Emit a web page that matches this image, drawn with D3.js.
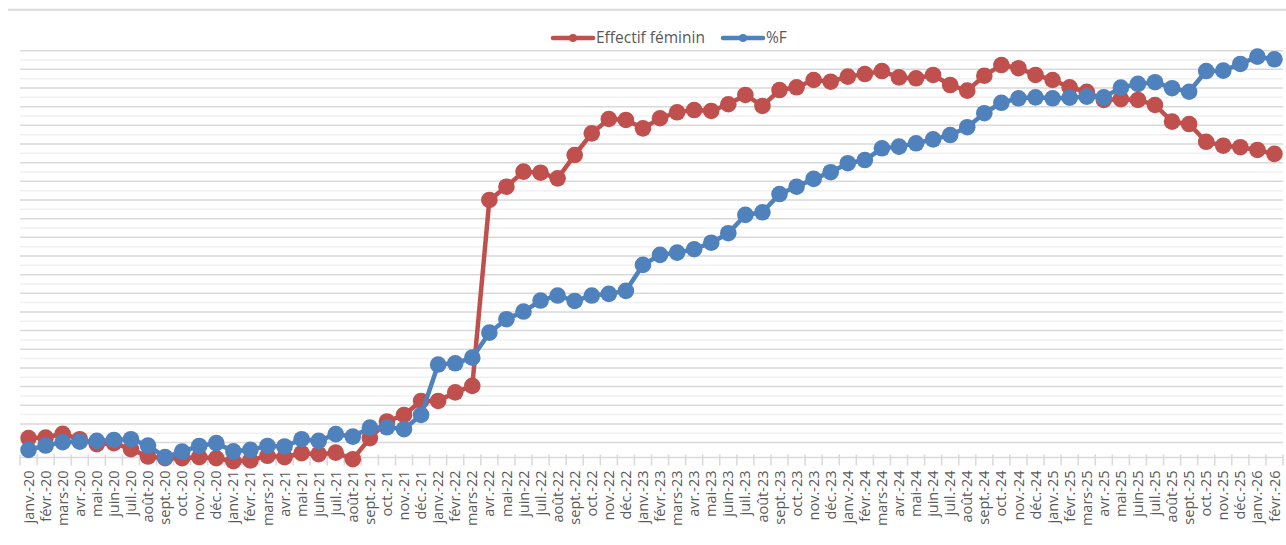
<!DOCTYPE html>
<html lang="fr">
<head>
  <meta charset="UTF-8">
  <title>Effectif féminin et %F</title>
  <script src="https://d3js.org/d3.v7.min.js"></script>
  <style>
    body { margin: 0; background: #fff; font-family: "Open Sans", "Liberation Sans", sans-serif; }
    .grid-major { stroke: #d9d9d9; stroke-width: 1.5px; }
    .grid-minor { stroke: #f0f0f0; stroke-width: 1.5px; }
    .axis-x line { stroke: #d9d9d9; stroke-width: 1.5px; }
    .axis-x text { fill: #595959; font-size: 14.5px; }
    .series { fill: none; stroke-width: 4.5px; stroke-linejoin: round; }
    .legend text { fill: #595959; font-size: 15.5px; }
  </style>
</head>
<body>
<svg width="1286" height="545"></svg>
<script>
const months = ["janv.", "févr.", "mars", "avr.", "mai", "juin", "juil.", "août", "sept.", "oct.", "nov.", "déc."];
const categories = [];
for (let yr = 20; yr <= 26; yr++) {
  months.forEach((m, i) => {
    if (yr === 26 && i > 1) return;
    categories.push(`${m}-${yr}`);
  });
}

// values, in gridline units (no value axis is shown)
const effectifFeminin = [
  0.24, 0.27, 0.47, 0.18, -0.09, -0.03, -0.35, -0.75, -0.84, -0.84, -0.78, -0.84,
  -1.00, -0.96, -0.71, -0.78, -0.57, -0.62, -0.54, -0.89, 0.24, 1.13, 1.48, 2.23,
  2.23, 2.69, 3.04, 13.0, 13.71, 14.52, 14.46, 14.16, 15.41, 16.57, 17.34, 17.29,
  16.84, 17.38, 17.70, 17.82, 17.77, 18.13, 18.63, 18.04, 18.89, 19.04, 19.43, 19.34,
  19.61, 19.75, 19.91, 19.57, 19.52, 19.70, 19.16, 18.86, 19.66, 20.23, 20.06, 19.70,
  19.43, 19.04, 18.80, 18.36, 18.40, 18.36, 18.09, 17.20, 17.07, 16.12, 15.91, 15.83,
  15.68, 15.47
];
const pctF = [
  -0.39, -0.16, 0.02, 0.05, 0.09, 0.14, 0.18, -0.16, -0.78, -0.48, -0.18, -0.03,
  -0.47, -0.39, -0.18, -0.21, 0.18, 0.09, 0.45, 0.32, 0.80, 0.82, 0.72, 1.48,
  4.18, 4.25, 4.55, 5.89, 6.61, 7.02, 7.61, 7.88, 7.59, 7.88, 7.97, 8.13,
  9.52, 10.06, 10.18, 10.36, 10.71, 11.22, 12.20, 12.34, 13.32, 13.71, 14.13, 14.49,
  14.97, 15.14, 15.77, 15.86, 16.04, 16.25, 16.48, 16.90, 17.65, 18.21, 18.45, 18.50,
  18.45, 18.48, 18.54, 18.50, 19.02, 19.22, 19.31, 18.99, 18.80, 19.91, 19.93, 20.29,
  20.68, 20.54
];
const seriesNames = ["Effectif féminin", "%F"];
const seriesColors = ["#c0504d", "#4f81bd"];
const majorTicks = d3.range(0, 22);
const minorTicks = d3.range(0.5, 21, 1);

const svg = d3.select("svg");
const plotLeft = 20, plotRight = 1283, plotTop = 50.7, axisY = 457.5;

const x = d3.scaleBand().domain(categories).range([plotLeft, plotRight]);
const y = d3.scaleLinear().domain([-0.8, 21]).range([axisY, plotTop]);
const cx = (d, i) => x(categories[i]) + x.bandwidth() / 2;

// frame line at the top of the chart area
svg.append("line")
  .attr("x1", 8).attr("x2", 1286).attr("y1", 9.7).attr("y2", 9.7)
  .attr("stroke", "#d9d9d9").attr("stroke-width", 2);

svg.append("g").selectAll("line").data(minorTicks).join("line")
  .attr("class", "grid-minor")
  .attr("x1", plotLeft).attr("x2", plotRight)
  .attr("y1", d => y(d)).attr("y2", d => y(d));

svg.append("g").selectAll("line").data(majorTicks).join("line")
  .attr("class", "grid-major")
  .attr("x1", plotLeft).attr("x2", plotRight)
  .attr("y1", d => y(d)).attr("y2", d => y(d));

// category axis: ticks between categories, labels rotated
const axisG = svg.append("g").attr("class", "axis-x");
axisG.append("line").attr("x1", plotLeft).attr("x2", plotRight).attr("y1", axisY).attr("y2", axisY);
axisG.selectAll("line.tick").data(d3.range(categories.length + 1)).join("line")
  .attr("class", "tick")
  .attr("x1", i => plotLeft + i * x.step()).attr("x2", i => plotLeft + i * x.step())
  .attr("y1", axisY - 3).attr("y2", axisY + 8);
axisG.selectAll("text").data(categories).join("text")
  .attr("transform", d => `translate(${x(d) + x.bandwidth() / 2},${axisY + 13}) rotate(-90)`)
  .attr("text-anchor", "end")
  .attr("dy", "0.35em")
  .text(d => d);

const line = d3.line().x(cx).y(d => y(d));

[effectifFeminin, pctF].forEach((vals, s) => {
  const g = svg.append("g");
  g.append("path").datum(vals)
    .attr("class", "series")
    .attr("stroke", seriesColors[s])
    .attr("d", line);
  g.selectAll("circle").data(vals).join("circle")
    .attr("cx", cx)
    .attr("cy", d => y(d))
    .attr("r", 8.3)
    .attr("fill", seriesColors[s]);
});

// legend
const legendItems = [
  { name: seriesNames[0], color: seriesColors[0], x: 553 },
  { name: seriesNames[1], color: seriesColors[1], x: 723 }
];
const legend = svg.append("g").attr("class", "legend");
legendItems.forEach(it => {
  const g = legend.append("g").attr("transform", `translate(${it.x},38)`);
  g.append("line").attr("x1", 0).attr("x2", 40).attr("y1", 0).attr("y2", 0)
    .attr("stroke", it.color).attr("stroke-width", 4.5).attr("stroke-linecap", "round");
  g.append("circle").attr("cx", 20).attr("r", 4).attr("fill", it.color);
  g.append("text").attr("x", 43).attr("dy", "0.35em").text(it.name);
});
</script>
</body>
</html>
